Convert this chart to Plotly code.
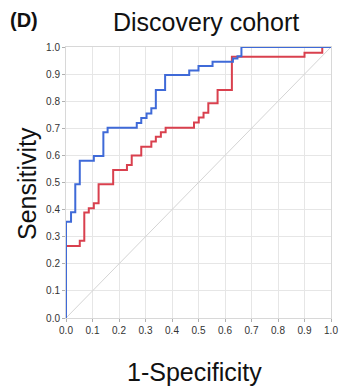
import plotly.graph_objects as go

# ROC curve vertices (1-specificity, sensitivity), drawn as steps
blue_fpr = [0, 0, 0.019, 0.035, 0.052, 0.105, 0.141, 0.157, 0.267, 0.284, 0.304,
            0.322, 0.339, 0.374, 0.465, 0.5, 0.553, 0.63, 0.647, 0.662, 1.0]
blue_tpr = [0, 0.355, 0.39, 0.494, 0.58, 0.598, 0.685, 0.702, 0.72, 0.738, 0.755,
            0.774, 0.841, 0.897, 0.913, 0.93, 0.946, 0.958, 0.966, 1.0, 1.0]

red_fpr = [0, 0, 0.052, 0.069, 0.086, 0.105, 0.123, 0.178, 0.23, 0.248, 0.284,
           0.322, 0.339, 0.358, 0.376, 0.483, 0.501, 0.519, 0.537, 0.572, 0.626,
           0.9, 0.967, 1.0]
red_tpr = [0, 0.266, 0.285, 0.389, 0.405, 0.423, 0.494, 0.546, 0.565, 0.6, 0.632,
           0.651, 0.669, 0.685, 0.702, 0.721, 0.74, 0.757, 0.792, 0.841, 0.964,
           0.979, 1.0, 1.0]

ref_line = [0, 1]
tick_vals = [0.0, 0.1, 0.2, 0.3, 0.4, 0.5, 0.6, 0.7, 0.8, 0.9, 1.0]
tick_text = ["0.0", "0.1", "0.2", "0.3", "0.4", "0.5", "0.6", "0.7", "0.8", "0.9", "1.0"]

fig = go.Figure()
fig.add_trace(go.Scatter(x=ref_line, y=ref_line, mode="lines",
                         line=dict(color="#d4d4d4", width=1), hoverinfo="skip"))
fig.add_trace(go.Scatter(x=red_fpr, y=red_tpr, mode="lines", line_shape="hv",
                         line=dict(color="#d9404e", width=2)))
fig.add_trace(go.Scatter(x=blue_fpr, y=blue_tpr, mode="lines", line_shape="hv",
                         line=dict(color="#3f6ad8", width=2)))

axis_common = dict(
    range=[0, 1.0], tickvals=tick_vals, ticktext=tick_text,
    showgrid=True, gridcolor="#e6e6e6", gridwidth=1,
    showline=True, linecolor="#d8d8d8", linewidth=1, mirror=True,
    ticks="outside", ticklen=3, tickcolor="#b0b0b0",
    tickfont=dict(family="Liberation Sans, Arial, sans-serif", size=10, color="#333333"),
    ticklabeloverflow="allow",
    zeroline=False, fixedrange=True,
)

fig.update_layout(
    width=345, height=389,
    margin=dict(l=66, r=7, t=47, b=71),
    paper_bgcolor="white", plot_bgcolor="white",
    showlegend=False,
    font=dict(family="Liberation Sans, Arial, sans-serif", color="#111111"),
    xaxis=dict(**axis_common),
    yaxis=dict(**axis_common),
    annotations=[
        dict(text="Discovery cohort", x=210, y=22, showarrow=False,
             font=dict(size=25, color="#111111")),
        dict(text="<b>(D)</b>", x=23, y=20, showarrow=False,
             font=dict(size=20, color="#111111")),
        dict(text="1-Specificity", x=198, y=372, showarrow=False,
             font=dict(size=25, color="#111111")),
        dict(text="Sensitivity", x=26, y=184, showarrow=False, textangle=-90,
             font=dict(size=25, color="#111111")),
    ],
)

# place annotations in pixel coordinates of the whole figure
W, H = 345, 389
L, R, T, B = 66, 7, 47, 71
for a in fig.layout.annotations:
    a.xref = "paper"
    a.yref = "paper"
    px, py = a.x, a.y
    a.x = (px - L) / (W - L - R)
    a.y = (H - B - py) / (H - T - B)
    a.xanchor = "center"
    a.yanchor = "middle"

fig.write_html("out.html")
